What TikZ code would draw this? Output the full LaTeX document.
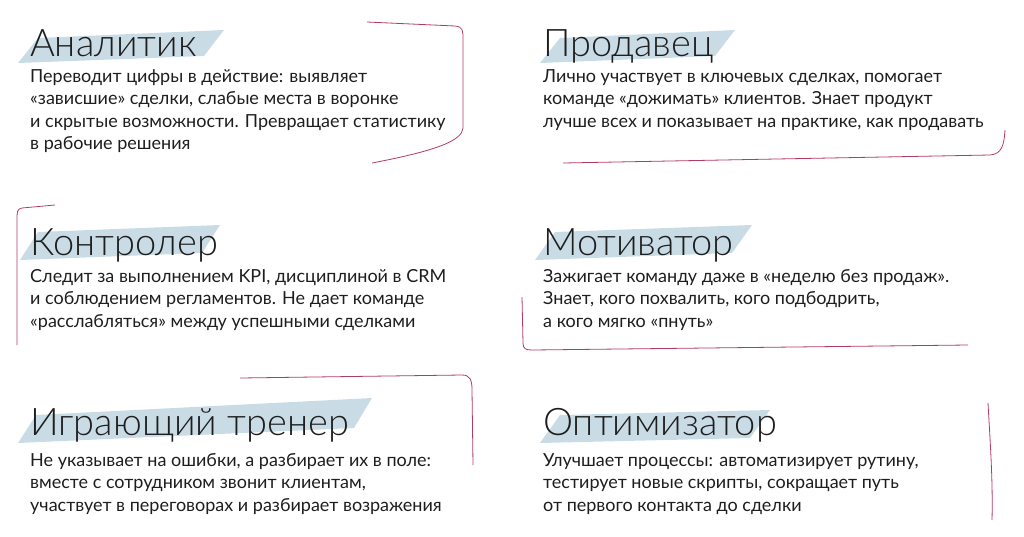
\documentclass[tikz,border=0pt]{standalone}
\usepackage{fontspec}
\setmainfont{Lato}
\newfontfamily\titlefont{Lato Light}
\definecolor{brush}{HTML}{C9DCE6}
\definecolor{accent}{HTML}{B23A66}
\definecolor{ink}{HTML}{1E1E1E}
\begin{document}
\begin{tikzpicture}[x=1pt,y=-1pt,
  ttl/.style={anchor=base west,inner sep=0,font=\titlefont\fontsize{38}{38}\selectfont,text=ink},
  body/.style={anchor=north west,inner sep=0,align=left,font=\fontsize{18}{22.5}\selectfont,text=ink},
  swash/.style={fill=brush},
  rline/.style={draw=accent,line width=0.8pt}]
\useasboundingbox (0,0) rectangle (1024,536);
% brushes
\fill[swash] (18,63) -- (38,38) -- (224,30) -- (204,56) -- cycle;
\fill[swash] (540,63) -- (560,38) -- (735,30) -- (715,56) -- cycle;
\fill[swash] (20,260) -- (38,232) -- (220,225) -- (202,253) -- cycle;
\fill[swash] (535,260) -- (555,232) -- (752,225) -- (732,253) -- cycle;
\fill[swash] (18,443) -- (36,415) -- (372,398) -- (354,428) -- cycle;
\fill[swash] (540,443) -- (560,415) -- (770,410) -- (750,438) -- cycle;
% red lines
\draw[rline] (367,22) -- (455,26) .. controls (463,27) and (463,30) .. (463,40) -- (463,128) .. controls (462,140) and (440,150) .. (372,163);
\draw[rline] (563,163) -- (990,155) .. controls (1002,154) and (1004,145) .. (1005,130);
\draw[rline] (55,205) -- (22,208) .. controls (17,209) and (17,212) .. (17,220) -- (17,345);
\draw[rline] (522,297) -- (523,343) .. controls (523,349) and (526,350) .. (532,350) -- (968,345);
\draw[rline] (240,378) -- (462,375) .. controls (470,375) and (472,380) .. (472,390) -- (473,465);
\draw[rline] (988,403) .. controls (990,440) and (993,480) .. (992,520);
% titles
\node[ttl] (t1) at (30,56) {Аналитик};
\node[ttl] (t2) at (543,56) {Продавец};
\node[ttl] (t3) at (30,255) {Контролер};
\node[ttl] (t4) at (543,255) {Мотиватор};
\node[ttl] (t5) at (30,435) {Играющий тренер};
\node[ttl] (t6) at (543,435) {Оптимизатор};
% bodies
\node[body] (b1) at (30,69) {Переводит цифры в действие: выявляет\\«зависшие» сделки, слабые места в воронке\\и скрытые возможности. Превращает статистику\\в рабочие решения};
\node[body] (b2) at (543,69) {Лично участвует в ключевых сделках, помогает\\команде «дожимать» клиентов. Знает продукт\\лучше всех и показывает на практике, как продавать};
\node[body] (b3) at (30,269) {Следит за выполнением KPI, дисциплиной в CRM\\и соблюдением регламентов. Не дает команде\\«расслабляться» между успешными сделками};
\node[body] (b4) at (543,269) {Зажигает команду даже в «неделю без продаж».\\Знает, кого похвалить, кого подбодрить,\\а кого мягко «пнуть»};
\node[body] (b5) at (30,453) {Не указывает на ошибки, а разбирает их в поле:\\вместе с сотрудником звонит клиентам,\\участвует в переговорах и разбирает возражения};
\node[body] (b6) at (543,453) {Улучшает процессы: автоматизирует рутину,\\тестирует новые скрипты, сокращает путь\\от первого контакта до сделки};
\end{tikzpicture}
\end{document}
